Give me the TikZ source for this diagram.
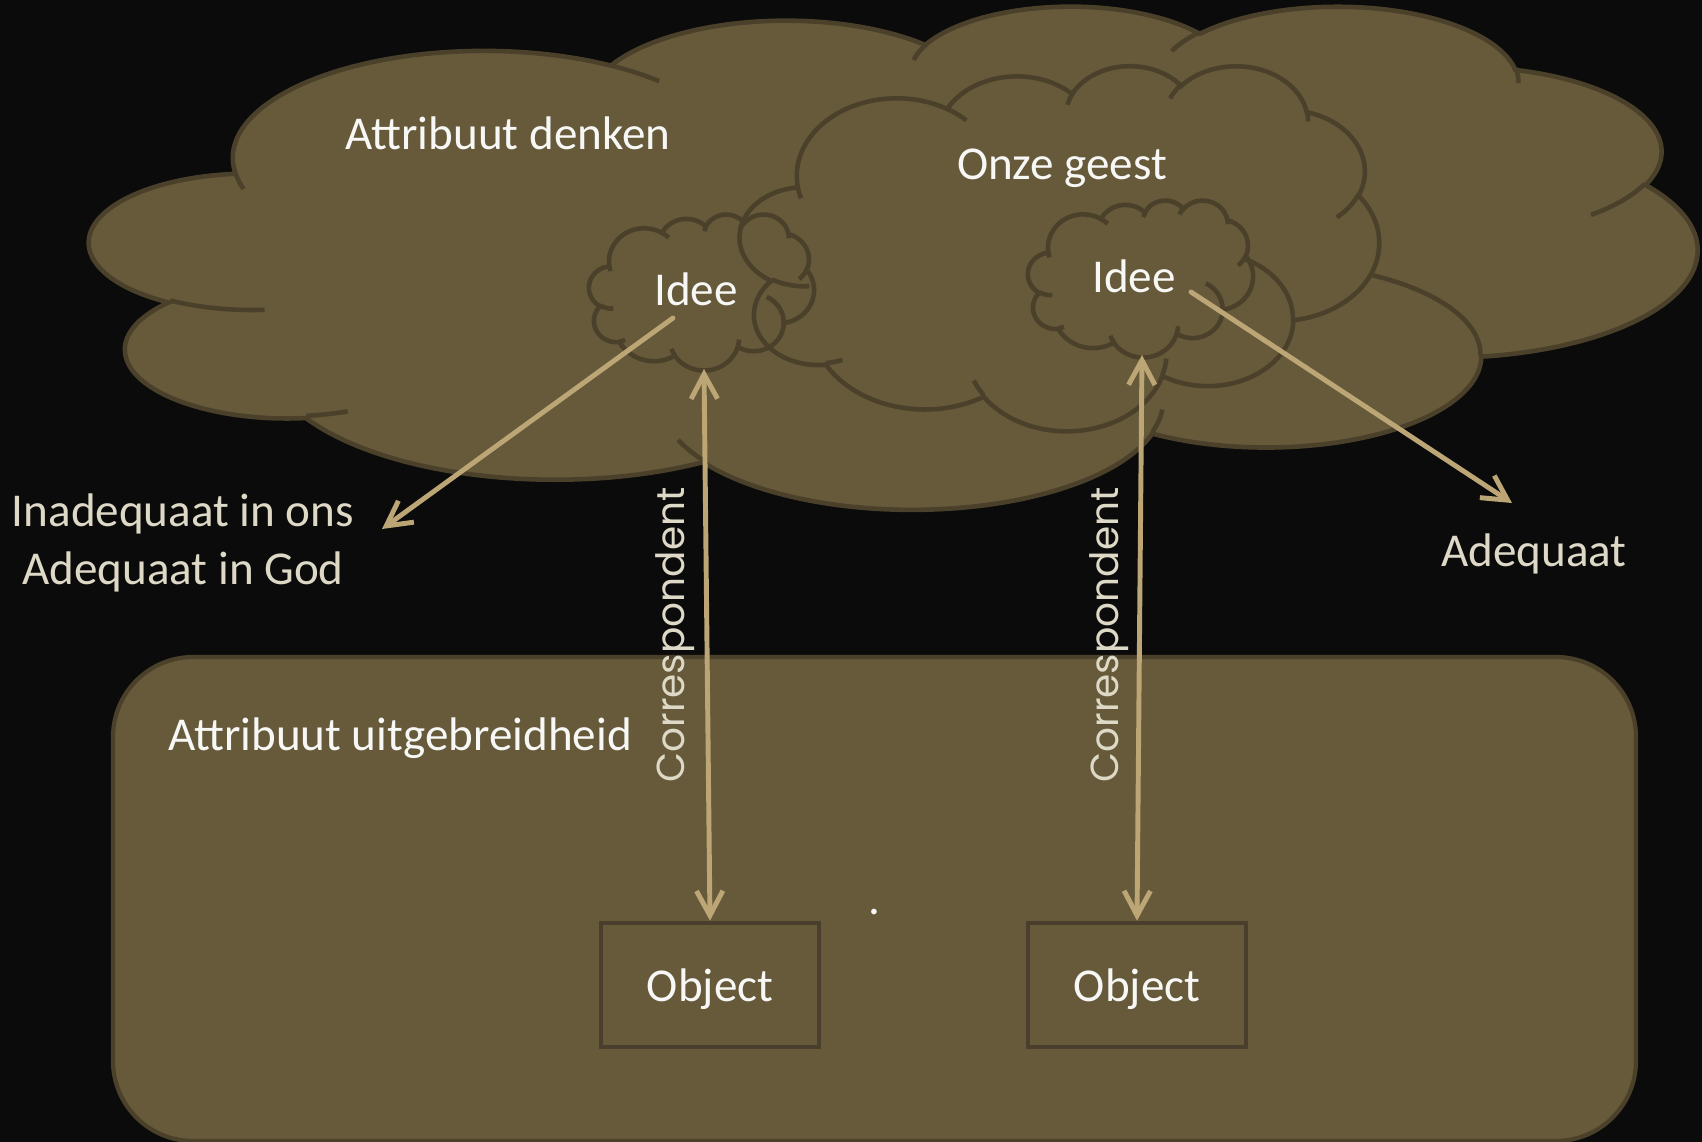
\documentclass[tikz,border=0pt]{standalone}
\usepackage{fontspec}
\setmainfont{Carlito}
\newfontfamily\corrfont{Poppins}
\usetikzlibrary{arrows.meta}
\definecolor{slide}{HTML}{0B0B0B}
\definecolor{earth}{HTML}{665A3B}
\definecolor{earthline}{HTML}{4B412B}
\definecolor{boxline}{HTML}{4A3F2C}
\definecolor{sand}{HTML}{BCA676}
\definecolor{chalk}{HTML}{DDD9C6}
\tikzset{
    x=0.01cm, y=-0.01cm, % one unit is one pixel of the slide
    }
% one arc of the office cloud, angles as seen on the page
\newcommand{\cloudarc}[4]{%
  \pgfextra{%
    \pgfmathsetmacro{\arcA}{atan2((#1)*sin(#3),(#2)*cos(#3))}%
    \pgfmathsetmacro{\arcB}{atan2((#1)*sin((#3)+(#4)),(#2)*cos((#3)+(#4)))}%
    \pgfmathsetmacro{\arcD}{mod(\arcB-\arcA+720,360)}}%
  arc[start angle=\arcA, delta angle=\arcD, x radius=#1, y radius=#2]}
% [style] left, top, width, height
\newcommand{\officecloud}[5][cloudpart]{%
  \begin{scope}[shift={(#2,#3)}, xscale=#4/43.2, yscale=#5/43.2]
    \path[#1] (3.9,14.37)
      \cloudarc{6.753}{9.19}{-190.487}{123.781}
      \cloudarc{5.333}{7.267}{-144.102}{89.945}
      \cloudarc{4.365}{5.945}{-145.808}{99.723}
      \cloudarc{4.857}{6.595}{-130.986}{117.242}
      \cloudarc{5.333}{7.273}{-78.709}{109.027}
      \cloudarc{6.775}{9.22}{-46.267}{130.269}
      \cloudarc{5.785}{7.867}{0.625}{114.033}
      \cloudarc{6.752}{9.215}{22.452}{115.173}
      \cloudarc{7.72}{10.543}{66.243}{75.711}
      \cloudarc{4.36}{5.918}{-274.942}{146.736}
      \cloudarc{4.345}{5.945}{-246.829}{152.519} -- cycle;
    \draw[cloudline]
      (4.693,26.177) \cloudarc{4.345}{5.945}{86.742}{26.43}
      (6.928,34.899) \cloudarc{4.36}{5.918}{73.61}{11.447}
      (16.478,39.09) \cloudarc{6.752}{9.215}{137.624}{14.081}
      (28.827,34.751) \cloudarc{6.752}{9.215}{6.453}{15.998}
      (34.129,22.954) \cloudarc{5.785}{7.867}{-70.292}{70.917}
      (41.798,15.354) \cloudarc{5.333}{7.273}{30.318}{27.752}
      (38.324,5.426) \cloudarc{4.857}{6.595}{-13.744}{14.859}
      (29.078,3.952) \cloudarc{4.857}{6.595}{-149.181}{18.195}
      (22.141,4.72) \cloudarc{4.365}{5.945}{-163.494}{17.686}
      (14.0,5.192) \cloudarc{6.753}{9.19}{-66.707}{12.319}
      (4.127,15.789) \cloudarc{6.753}{9.19}{157.654}{11.858};
  \end{scope}}

\begin{document}
\begin{tikzpicture}[
cloudline/.style={draw=earthline, line width=1.3pt},
cloudpart/.style={cloudline, fill=earth},
whitetext/.style={text=white!95!earth, font=\fontsize{13.4}{16.4}\selectfont, anchor=base},
sidetext/.style={text=chalk, font=\fontsize{13.4}{16.4}\selectfont, anchor=base},
corrtext/.style={text=chalk, font=\corrfont\fontsize{11.1}{13}\selectfont, rotate=90, anchor=base},
objbox/.style={draw=boxline, line width=1.3pt, minimum width=2.18cm, minimum height=1.24cm, text depth=0pt, text=white!95!earth, font=\fontsize{13.4}{16.4}\selectfont},
link/.style={sand, line width=1.4pt, line cap=round},
>={Straight Barb[length=7pt,width=7.5pt]},
]
\fill[slide] (0,0) rectangle (1702,1142);
\useasboundingbox (0,0) rectangle (1702,1142);

% clouds of thought
\officecloud{90}{5}{1607}{503}
\officecloud{740}{65}{639}{365}
\officecloud[cloudline]{589}{214}{225}{156}
\officecloud[cloudline]{1028}{200}{225}{157}

% extension
\filldraw[fill=earth, draw=earthline, line width=1.2pt, rounded corners=0.8cm] (113,657) rectangle (1636,1141);

\node[whitetext] (denken) at (508,149) {Attribuut denken};
\node[whitetext] (geest) at (1062,179) {Onze geest};
\node[whitetext] (idee1) at (696,305) {Idee};
\node[whitetext] (idee2) at (1134,292) {Idee};
\node[sidetext, align=center] (inadequaat) at (183,584) {Inadequaat in ons\\Adequaat in God};
\node[sidetext] (adequaat) at (1534,566) {Adequaat};
\node[whitetext] (uitgebreid) at (400,750) {Attribuut uitgebreidheid};
\node[corrtext] (corr1) at (684,635) {Correspondent};
\node[corrtext] (corr2) at (1118,635) {Correspondent};
\node[objbox] (obj1) at (710,985) {Object};
\node[objbox] (obj2) at (1137,985) {Object};
\node[whitetext] (dot) at (874,914) {.};

\coordinate (idee1out) at (673,318);
\coordinate (idee1foot) at (704,369);
\coordinate (idee2out) at (1191,292);
\coordinate (idee2foot) at (1142,355);
\coordinate (inadequaattip) at (382,529);
\coordinate (adequaattip) at (1512,503);

\draw[link,->] (idee1out) -- (inadequaattip);
\draw[link,->] (idee2out) -- (adequaattip);
\draw[link,<->] (idee1foot) -- (obj1.north);
\draw[link,<->] (idee2foot) -- (obj2.north);
\end{tikzpicture}
\end{document}
